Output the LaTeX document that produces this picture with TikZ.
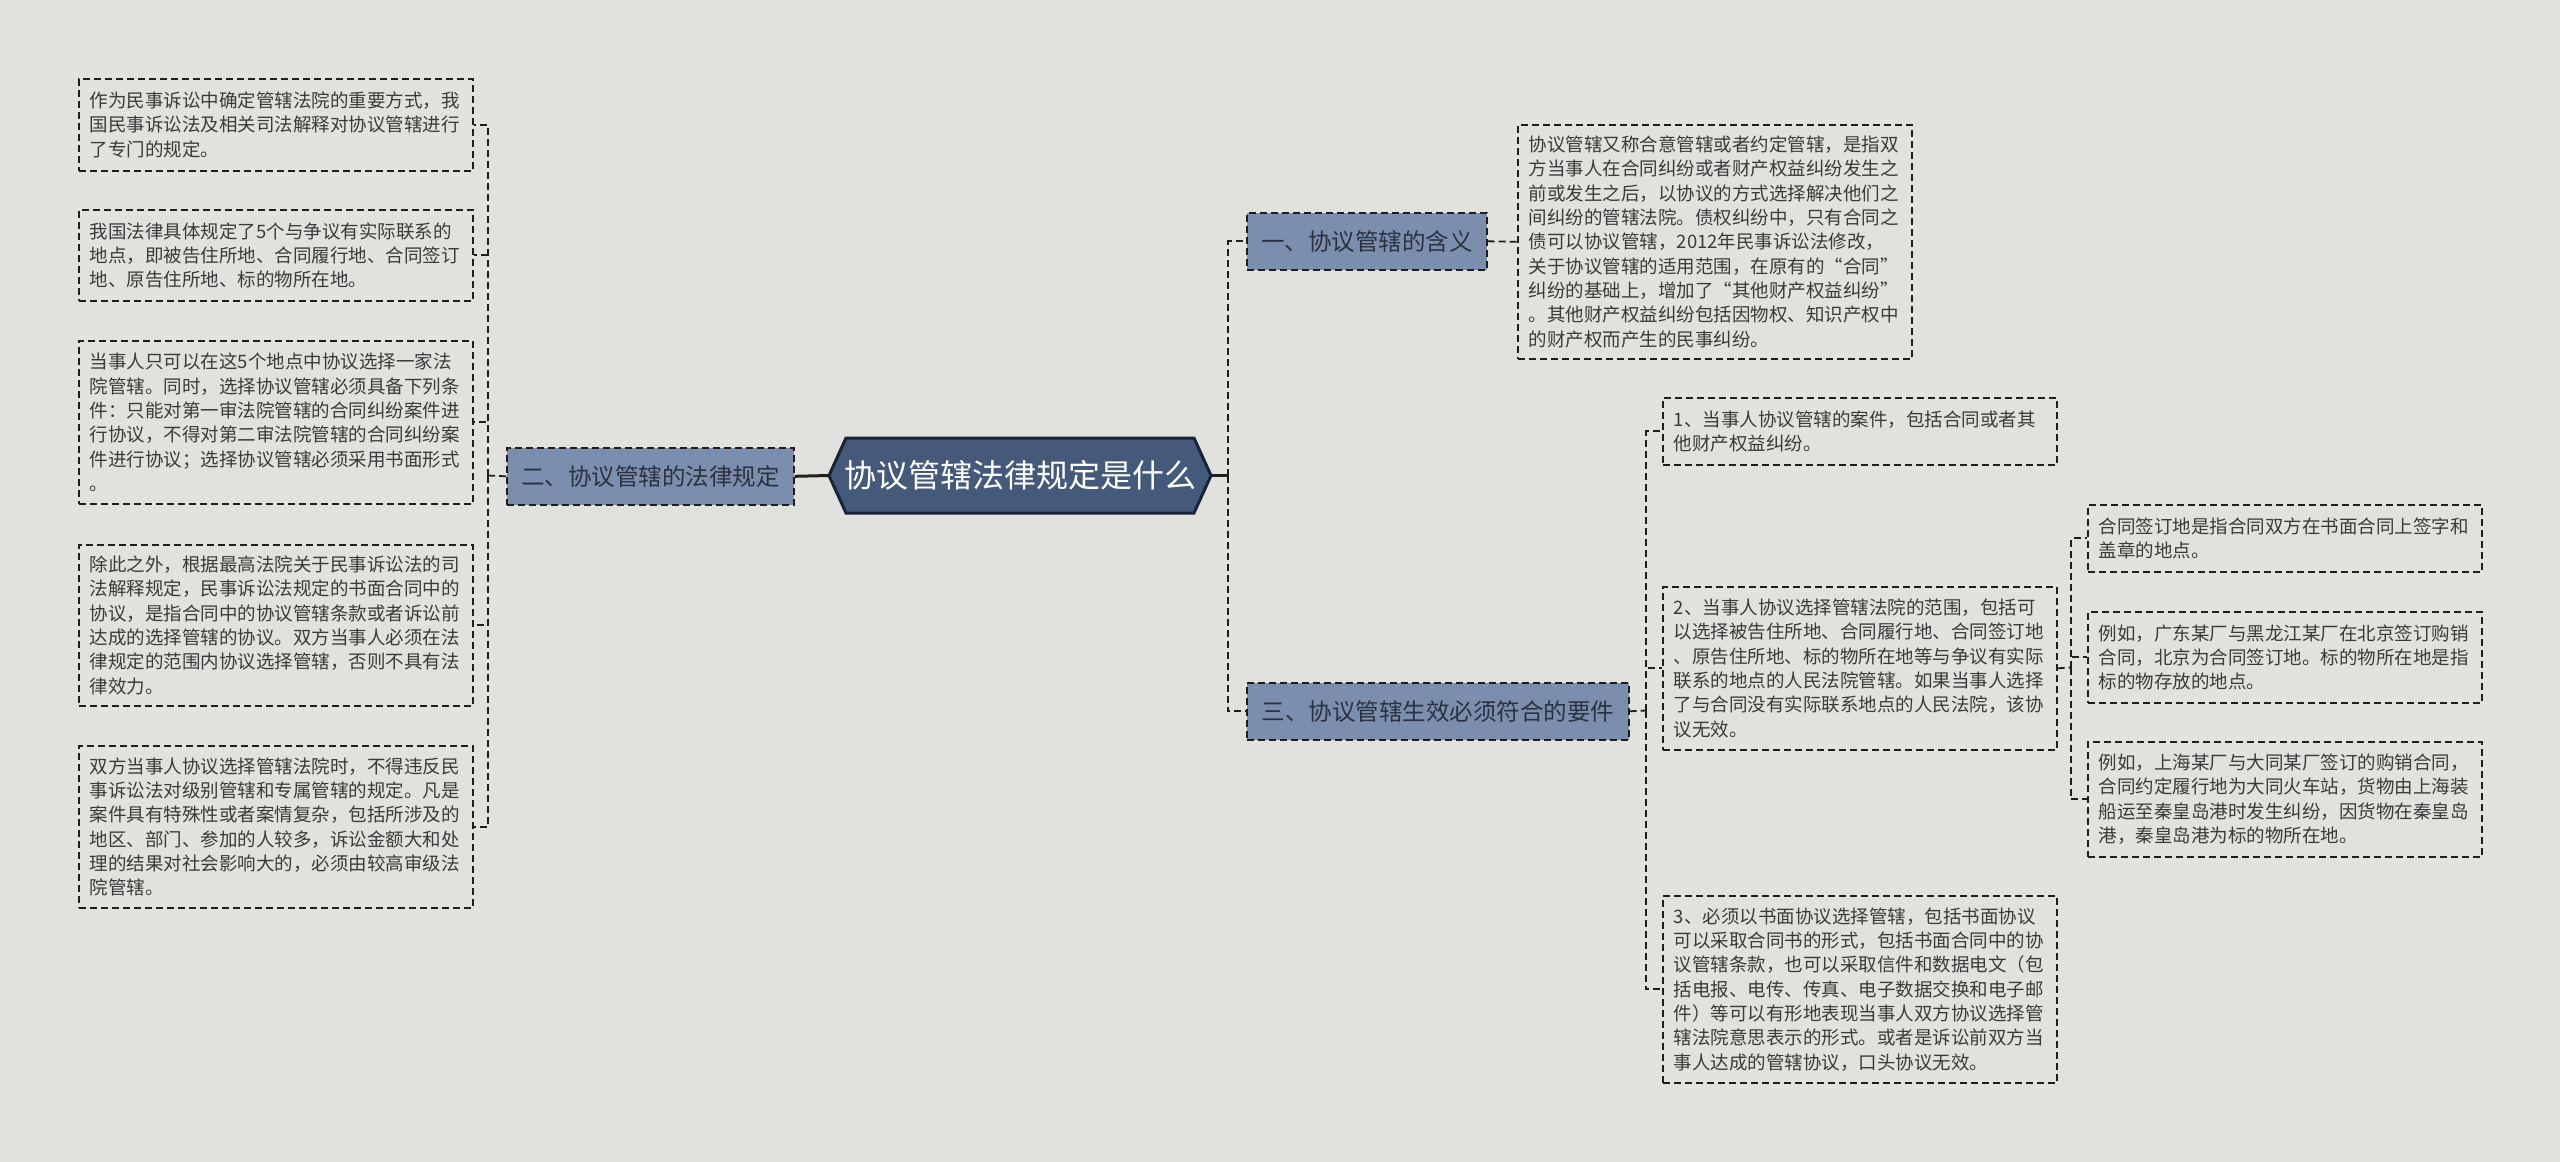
\documentclass[tikz,border=0pt]{standalone}
\usepackage{fontspec}
\setmainfont{Noto Sans CJK SC}
\newdimen\pxu \pxu=0.5pt
\definecolor{bgc}{HTML}{E1E2DD}
\definecolor{branchfill}{HTML}{7B8EAD}
\definecolor{rootfill}{HTML}{455A7A}
\definecolor{rootline}{HTML}{17243A}
\definecolor{linec}{HTML}{1E1E1E}
\definecolor{txt}{HTML}{3A3A3A}
\definecolor{btxt}{HTML}{2B3140}
\tikzset{
  dsh/.style={dash pattern=on 7\pxu off 4\pxu},
  leaf/.style={draw=linec, line width=1.6\pxu, dsh, text=txt, align=left,
    inner xsep=11\pxu, inner ysep=0pt, text width=372\pxu, anchor=north west,
    font=\fontsize{9.25pt}{12.15pt}\selectfont},
  branch/.style={draw=linec, fill=branchfill, line width=1.6\pxu, dsh, text=btxt,
    inner sep=0pt, minimum height=57\pxu, anchor=north west,
    font=\fontsize{11.75pt}{14pt}\selectfont},
  rootnode/.style={text=white, inner sep=0pt, font=\fontsize{16pt}{18pt}\selectfont},
  dconn/.style={draw=linec, line width=1.8\pxu, dsh},
  sconn/.style={draw=linec, line width=3\pxu},
}
\begin{document}
\begin{tikzpicture}[x=0.5pt,y=-0.5pt]
\useasboundingbox (0,0) rectangle (2560,1162);
\fill[bgc] (0,0) rectangle (2560,1162);

% root hexagon
\coordinate (rootL) at (829,475.5);
\coordinate (rootR) at (1211,475.5);
\filldraw[fill=rootfill, draw=rootline, line width=3\pxu]
  (rootL) -- (846,438) -- (1194,438) -- (rootR) -- (1194,513) -- (846,513) -- cycle;
\node[rootnode] (root) at (1020,475.5) {协议管辖法律规定是什么};

% branches
\node[branch, minimum width=287\pxu] (b2) at (506,447) {二、协议管辖的法律规定};
\node[branch, minimum width=240\pxu] (b1) at (1246,212) {一、协议管辖的含义};
\node[branch, minimum width=382\pxu] (b3) at (1246,682) {三、协议管辖生效必须符合的要件};

% left leaves
\node[leaf, minimum height=92\pxu] (L1) at (78,78) {作为民事诉讼中确定管辖法院的重要方式，我\\国民事诉讼法及相关司法解释对协议管辖进行\\了专门的规定。};
\node[leaf, minimum height=91\pxu] (L2) at (78,209) {我国法律具体规定了5个与争议有实际联系的\\地点，即被告住所地、合同履行地、合同签订\\地、原告住所地、标的物所在地。};
\node[leaf, minimum height=163\pxu] (L3) at (78,340) {当事人只可以在这5个地点中协议选择一家法\\院管辖。同时，选择协议管辖必须具备下列条\\件：只能对第一审法院管辖的合同纠纷案件进\\行协议，不得对第二审法院管辖的合同纠纷案\\件进行协议；选择协议管辖必须采用书面形式\\。};
\node[leaf, minimum height=161\pxu] (L4) at (78,544) {除此之外，根据最高法院关于民事诉讼法的司\\法解释规定，民事诉讼法规定的书面合同中的\\协议，是指合同中的协议管辖条款或者诉讼前\\达成的选择管辖的协议。双方当事人必须在法\\律规定的范围内协议选择管辖，否则不具有法\\律效力。};
\node[leaf, minimum height=162\pxu] (L5) at (78,745) {双方当事人协议选择管辖法院时，不得违反民\\事诉讼法对级别管辖和专属管辖的规定。凡是\\案件具有特殊性或者案情复杂，包括所涉及的\\地区、部门、参加的人较多，诉讼金额大和处\\理的结果对社会影响大的，必须由较高审级法\\院管辖。};

% right leaves
\node[leaf, minimum height=234\pxu] (R1) at (1517,124) {协议管辖又称合意管辖或者约定管辖，是指双\\方当事人在合同纠纷或者财产权益纠纷发生之\\前或发生之后，以协议的方式选择解决他们之\\间纠纷的管辖法院。债权纠纷中，只有合同之\\债可以协议管辖，2012年民事诉讼法修改，\\关于协议管辖的适用范围，在原有的“合同”\\纠纷的基础上，增加了“其他财产权益纠纷”\\。其他财产权益纠纷包括因物权、知识产权中\\的财产权而产生的民事纠纷。};
\node[leaf, minimum height=67\pxu] (R2) at (1662,397) {1、当事人协议管辖的案件，包括合同或者其\\他财产权益纠纷。};
\node[leaf, minimum height=163\pxu] (R3) at (1662,586) {2、当事人协议选择管辖法院的范围，包括可\\以选择被告住所地、合同履行地、合同签订地\\、原告住所地、标的物所在地等与争议有实际\\联系的地点的人民法院管辖。如果当事人选择\\了与合同没有实际联系地点的人民法院，该协\\议无效。};
\node[leaf, minimum height=187\pxu] (R4) at (1662,895) {3、必须以书面协议选择管辖，包括书面协议\\可以采取合同书的形式，包括书面合同中的协\\议管辖条款，也可以采取信件和数据电文（包\\括电报、电传、传真、电子数据交换和电子邮\\件）等可以有形地表现当事人双方协议选择管\\辖法院意思表示的形式。或者是诉讼前双方当\\事人达成的管辖协议，口头协议无效。};
\node[leaf, minimum height=67\pxu] (R5) at (2087,504) {合同签订地是指合同双方在书面合同上签字和\\盖章的地点。};
\node[leaf, minimum height=91\pxu] (R6) at (2087,611) {例如，广东某厂与黑龙江某厂在北京签订购销\\合同，北京为合同签订地。标的物所在地是指\\标的物存放的地点。};
\node[leaf, minimum height=115\pxu] (R7) at (2087,741) {例如，上海某厂与大同某厂签订的购销合同，\\合同约定履行地为大同火车站，货物由上海装\\船运至秦皇岛港时发生纠纷，因货物在秦皇岛\\港，秦皇岛港为标的物所在地。};

% connectors
\coordinate (lj) at (488,475.5);
\coordinate (rj) at (1228,475.5);
\draw[sconn] (rootL) -- (b2.east);
\draw[sconn] (rootR) -- (rj);
\draw[dconn] (b2.west) -- (lj);
\foreach \n in {L1,L2,L3,L4,L5} \draw[dconn] (lj) |- (\n.east);
\draw[dconn] (rj) |- (b1.west);
\draw[dconn] (rj) |- (b3.west);
\draw[dconn] (b1.east) -- (R1.west);
\coordinate (tj) at (1646,710.5);
\draw[dconn] (b3.east) -- (tj);
\foreach \n in {R2,R3,R4} \draw[dconn] (tj) |- (\n.west);
\coordinate (sj) at (2071,667.5);
\draw[dconn] (R3.east) -- (sj);
\foreach \n in {R5,R6,R7} \draw[dconn] (sj) |- (\n.west);
\end{tikzpicture}
\end{document}
